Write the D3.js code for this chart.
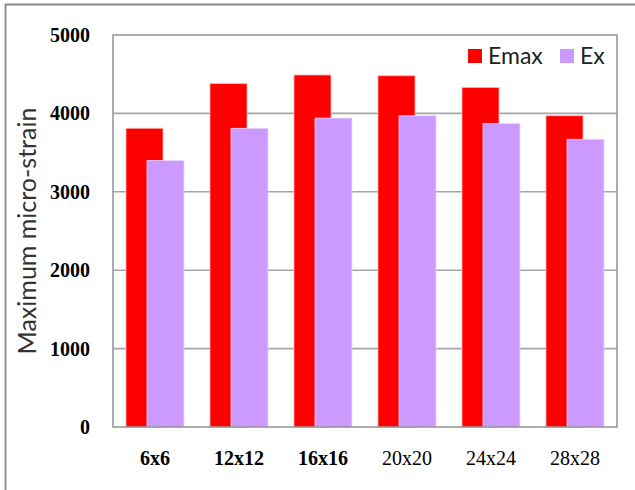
<!DOCTYPE html>
<html>
<head>
<meta charset="utf-8">
<script src="https://cdn.jsdelivr.net/npm/d3@7"></script>
<style>
  html, body { margin: 0; padding: 0; background: #fff; }
  svg { display: block; }
</style>
</head>
<body>
<svg id="chart" width="635" height="490"></svg>
<script>
// Mesh sizes and the two strain measures
const categories = ["6x6", "12x12", "16x16", "20x20", "24x24", "28x28"];
const emax = [3810, 4380, 4490, 4480, 4330, 3970];
const ex = [3400, 3810, 3940, 3970, 3870, 3670];
const seriesNames = ["Emax", "Ex"];
const seriesColors = ["#ff0000", "#cc99ff"];
const yTicks = [0, 1000, 2000, 3000, 4000, 5000];

const svg = d3.select("#chart");
const plot = { left: 113, top: 35, right: 617, bottom: 427 };

// Outer chart frame (only top and left edges fall inside the canvas)
svg.append("path")
  .attr("d", "M5.5,490 L5.5,4.5 L635,4.5")
  .attr("fill", "none")
  .attr("stroke", "#8a8a8a")
  .attr("stroke-width", 1.8);

const x = d3.scaleBand().domain(categories).range([plot.left, plot.right]);
const y = d3.scaleLinear().domain([0, 5000]).range([plot.bottom, plot.top]);

// Gridlines
svg.append("g")
  .selectAll("line")
  .data(yTicks.filter(t => t > 0 && t < 5000))
  .join("line")
  .attr("x1", plot.left).attr("x2", plot.right)
  .attr("y1", d => y(d)).attr("y2", d => y(d))
  .attr("stroke", "#a6a6a6")
  .attr("stroke-width", 1.6);

// Bars: overlapping pair within each category
const barW = 37;
const shift = 21;
const series = [emax, ex];
series.forEach((vals, si) => {
  svg.append("g")
    .selectAll("rect")
    .data(vals)
    .join("rect")
    .attr("x", (d, i) => x(categories[i]) + x.bandwidth() / 2 - (barW + shift) / 2 + si * shift)
    .attr("width", barW)
    .attr("y", d => y(d))
    .attr("height", d => y(0) - y(d))
    .attr("fill", seriesColors[si])
    .attr("stroke", si === 0 ? "#ffb3b3" : "#e6d4ff")
    .attr("stroke-width", 0.8);
});

// Plot area border
svg.append("rect")
  .attr("x", plot.left).attr("y", plot.top)
  .attr("width", plot.right - plot.left)
  .attr("height", plot.bottom - plot.top)
  .attr("fill", "none")
  .attr("stroke", "#8c8c8c")
  .attr("stroke-width", 1.4);

// Y axis tick labels
const yAxis = d3.axisLeft(y).tickValues(yTicks).tickFormat(d3.format("d")).tickSize(0).tickPadding(23);
const gy = svg.append("g").attr("transform", `translate(${plot.left},0)`).call(yAxis);
gy.select(".domain").remove();
gy.selectAll("text")
  .attr("font-family", "'Liberation Serif', serif")
  .attr("font-weight", "bold")
  .attr("font-size", 20)
  .attr("fill", "#000");

// X axis category labels
const xAxis = d3.axisBottom(x).tickSize(0).tickPadding(24);
const gx = svg.append("g").attr("transform", `translate(0,${plot.bottom})`).call(xAxis);
gx.select(".domain").remove();
gx.selectAll("text")
  .attr("font-family", "'Liberation Serif', serif")
  .attr("font-weight", (d, i) => i < 3 ? "bold" : "normal")
  .attr("font-size", 20)
  .attr("fill", "#000");

// Y axis title
svg.append("text")
  .attr("transform", "translate(36,231) rotate(-90)")
  .attr("text-anchor", "middle")
  .attr("font-family", "Lato, sans-serif")
  .attr("font-size", 25)
  .attr("fill", "#333")
  .text("Maximum micro-strain");

// Legend
const legendItems = [
  { name: seriesNames[0], color: seriesColors[0], x: 468 },
  { name: seriesNames[1], color: seriesColors[1], x: 560 }
];
const lg = svg.append("g");
legendItems.forEach(it => {
  lg.append("rect")
    .attr("x", it.x).attr("y", 49).attr("width", 14).attr("height", 14)
    .attr("fill", it.color);
  lg.append("text")
    .attr("x", it.x + 20).attr("y", 64)
    .attr("font-family", "Lato, sans-serif")
    .attr("font-size", 23)
    .attr("fill", "#222")
    .text(it.name);
});
</script>
</body>
</html>
